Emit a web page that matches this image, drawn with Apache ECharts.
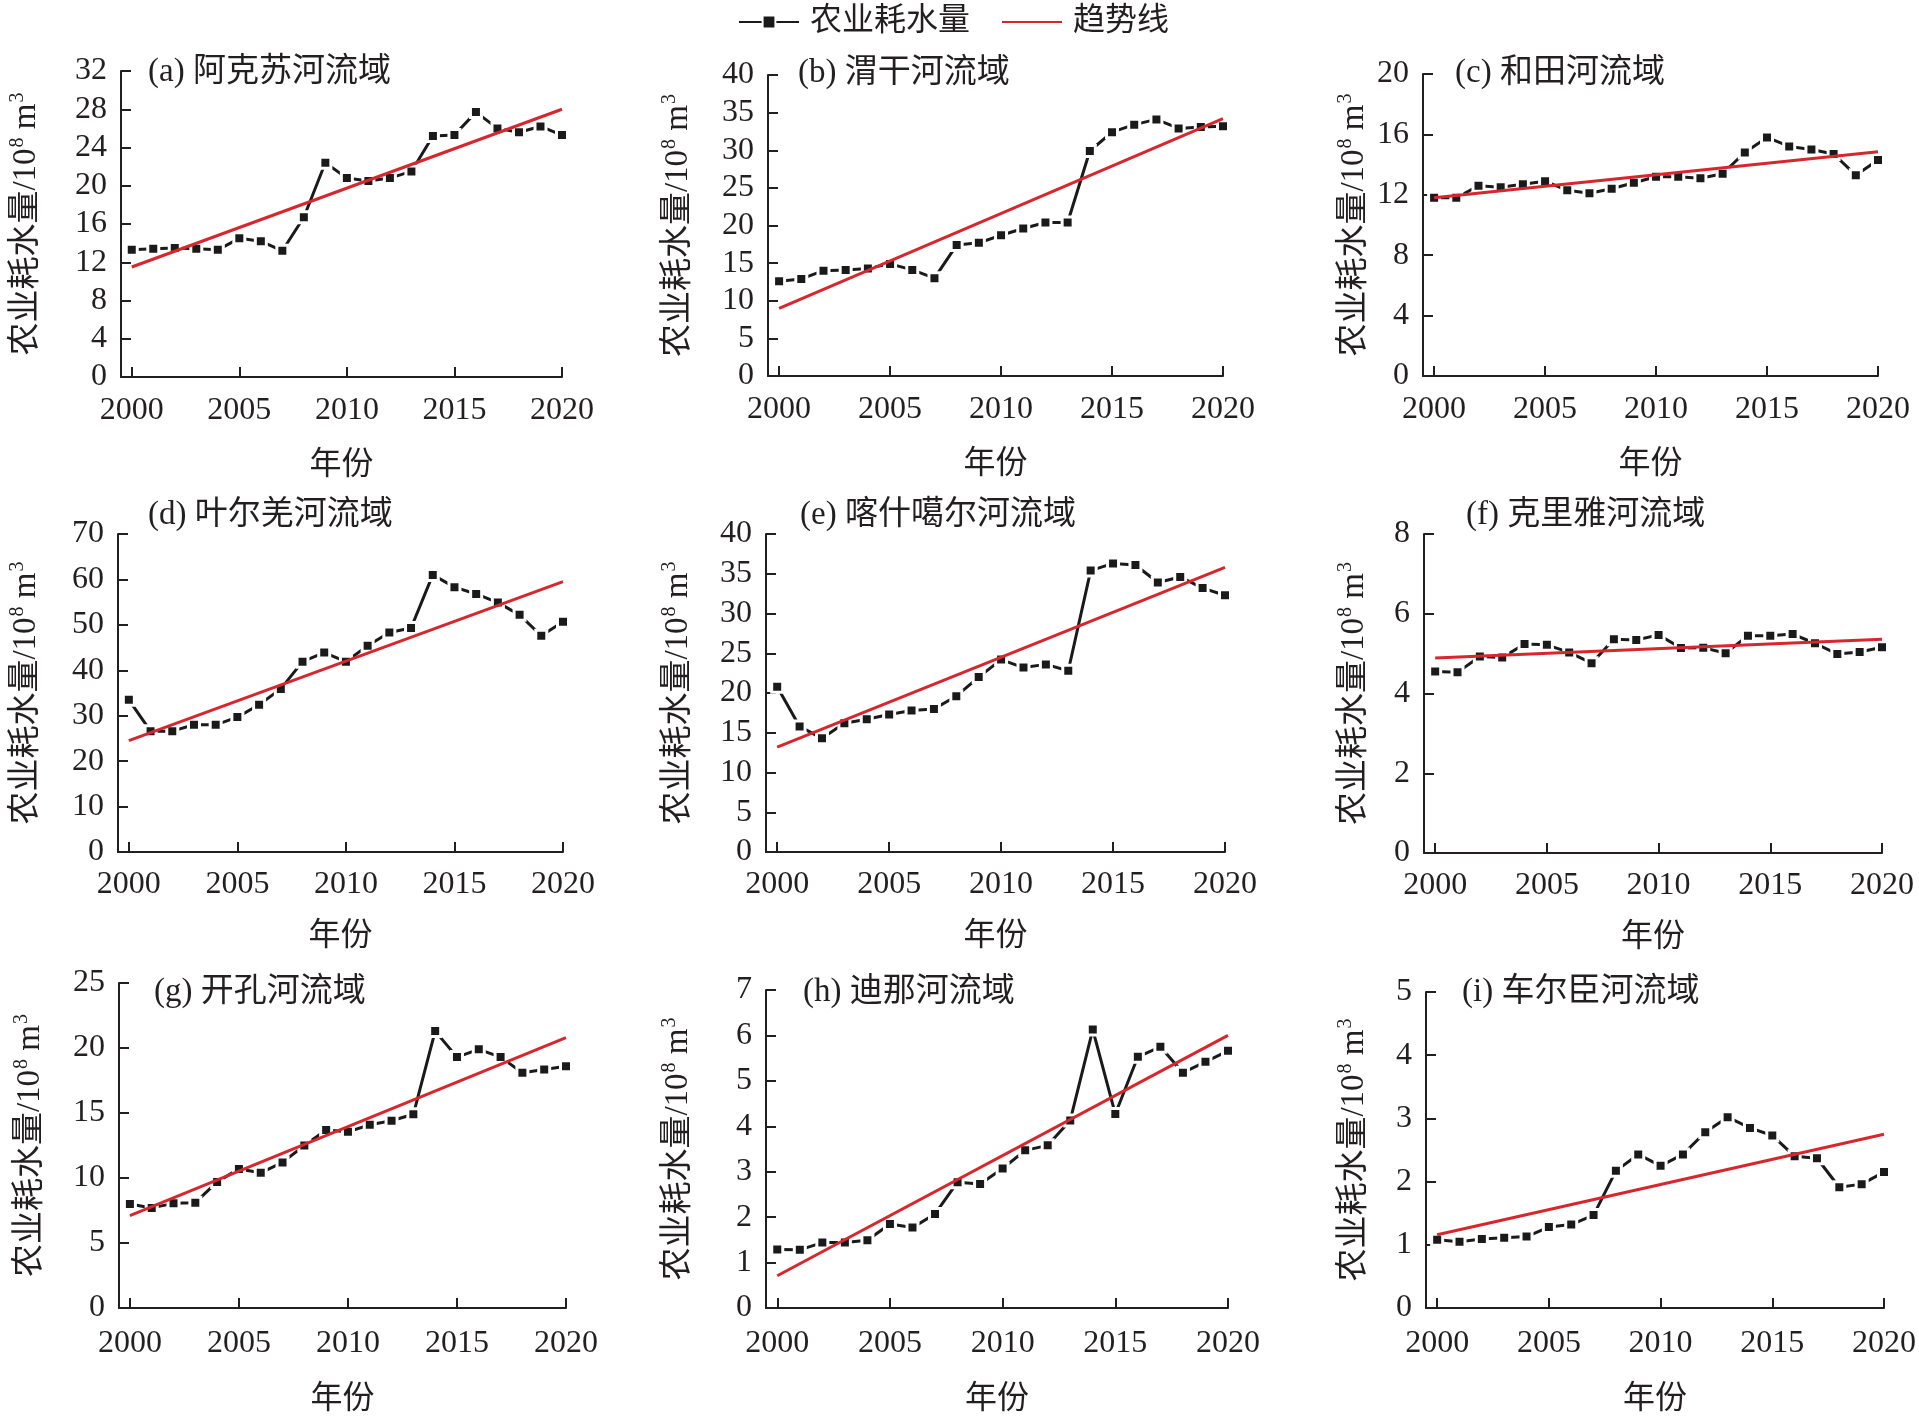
<!DOCTYPE html>
<html>
<head>
<meta charset="utf-8">
<script src="https://cdn.jsdelivr.net/npm/echarts@6/dist/echarts.min.js"></script>
<style>
html,body{margin:0;padding:0;background:#fff;}
#c{width:1919px;height:1417px;}
</style>
</head>
<body>
<div id="c"></div>
<script>
// ---------- data ----------
const years = [2000,2001,2002,2003,2004,2005,2006,2007,2008,2009,2010,2011,2012,2013,2014,2015,2016,2017,2018,2019,2020];
const xTicks = [2000,2005,2010,2015,2020];

const titles = ['(a) 阿克苏河流域','(b) 渭干河流域','(c) 和田河流域','(d) 叶尔羌河流域','(e) 喀什噶尔河流域','(f) 克里雅河流域','(g) 开孔河流域','(h) 迪那河流域','(i) 车尔臣河流域'];

const aksu    = [13.3,13.4,13.5,13.4,13.3,14.5,14.2,13.2,16.7,22.4,20.8,20.5,20.8,21.5,25.2,25.3,27.7,26.0,25.6,26.2,25.3];
const weigan  = [12.6,12.9,14.0,14.1,14.3,14.9,14.1,13.0,17.4,17.7,18.7,19.6,20.4,20.4,29.9,32.4,33.4,34.1,32.9,33.1,33.2];
const hotan   = [11.8,11.8,12.6,12.5,12.7,12.9,12.3,12.1,12.4,12.8,13.2,13.2,13.1,13.4,14.8,15.8,15.2,15.0,14.7,13.3,14.3];
const yarkand = [33.5,26.6,26.6,28.0,28.0,29.7,32.4,35.9,41.9,43.9,41.9,45.4,48.3,49.3,61.0,58.3,56.8,54.9,52.2,47.6,50.7];
const kashgar = [20.8,15.8,14.3,16.2,16.7,17.3,17.8,18.0,19.6,22.0,24.2,23.2,23.6,22.8,35.4,36.3,36.1,33.9,34.6,33.2,32.3];
const keriya  = [4.55,4.53,4.93,4.90,5.24,5.22,5.03,4.76,5.36,5.34,5.47,5.14,5.15,5.01,5.45,5.45,5.49,5.26,4.99,5.04,5.16];
const kaikong = [8.0,7.7,8.05,8.1,9.7,10.7,10.4,11.2,12.5,13.7,13.55,14.1,14.4,14.9,21.3,19.3,19.9,19.3,18.1,18.35,18.6];
const dina    = [1.29,1.28,1.44,1.44,1.49,1.85,1.77,2.07,2.77,2.73,3.07,3.47,3.58,4.13,6.13,4.27,5.53,5.75,5.18,5.42,5.66];
const qarqan  = [1.08,1.05,1.09,1.11,1.13,1.28,1.32,1.47,2.17,2.43,2.25,2.43,2.78,3.02,2.85,2.73,2.40,2.37,1.91,1.96,2.15];

// trend line end values (2000, 2020)
const trendAksu    = [11.5, 28.0];
const trendWeigan  = [9.0, 34.2];
const trendHotan   = [11.8, 14.85];
const trendYarkand = [24.5, 59.5];
const trendKashgar = [13.2, 35.8];
const trendKeriya  = [4.89, 5.36];
const trendKaikong = [7.1, 20.8];
const trendDina    = [0.71, 6.0];
const trendQarqan  = [1.16, 2.75];

const yMax      = [32, 40, 20, 70, 40, 8, 25, 7, 5];
const yInterval = [4, 5, 4, 10, 5, 2, 5, 1, 1];

const legendNames = ['农业耗水量', '趋势线'];
const yName = '{t|农业耗水量/10}{s|8}{t| m}{s|3}';
const xName = '年份';

// ---------- layout ----------
const series_vals = [aksu, weigan, hotan, yarkand, kashgar, keriya, kaikong, dina, qarqan];
const trends = [trendAksu, trendWeigan, trendHotan, trendYarkand, trendKashgar, trendKeriya, trendKaikong, trendDina, trendQarqan];

const grids = [
  {left:121, top:71,  width:441, height:306},
  {left:768, top:75,  width:455, height:301},
  {left:1423,top:74,  width:455, height:302},
  {left:118, top:534, width:445, height:318},
  {left:766, top:534, width:459, height:318},
  {left:1424,top:534, width:458, height:319},
  {left:119, top:983, width:447, height:327},
  {left:766, top:990, width:462, height:321},
  {left:1426,top:992, width:458, height:320}
];
const titlePos = [[148,76],[798,77],[1455,77],[148,519],[800,519],[1466,519],[154,996],[803,996],[1462,996]];
const yNameGap = [78,73,52,75,71,53,72,71,55];
const xLabelMargin = [18,18,18,17,17,17,20,20,20];
const xNameGap = [73,73,73,69,69,69,76,76,76];

const SERIF = "'Liberation Serif','Times New Roman','Noto Sans CJK SC',serif";
const INK = '#231f20';
const RED = '#d7272e';

const chart = echarts.init(document.getElementById('c'), null, {renderer:'canvas'});

const option = {
  backgroundColor:'#fff',
  animation:false,
  legend:{
    data: [
      {name: legendNames[0]},
      {name: legendNames[1], itemStyle:{opacity:0}}
    ],
    left: 733, top: 1,
    itemWidth: 60, itemHeight: 16, itemGap: 31,
    textStyle:{fontSize:32, fontFamily:SERIF, color:INK, padding:[0,0,0,6]}
  },
  title: titles.map((t,i)=>({
    text:t, left:titlePos[i][0], top:titlePos[i][1]-20,
    textStyle:{fontSize:33, fontWeight:'normal', fontFamily:SERIF, color:INK},
    padding:0
  })),
  grid: grids,
  xAxis: grids.map((g,i)=>({
    gridIndex:i, type:'value', min:1999.5, max:2020,
    name:xName, nameLocation:'middle', nameGap:xNameGap[i],
    nameTextStyle:{fontSize:32, fontFamily:SERIF, color:INK},
    axisLine:{show:true, onZero:false, lineStyle:{color:INK, width:2}},
    axisTick:{show:true, inside:true, length:10, customValues:xTicks, lineStyle:{color:INK, width:2}},
    axisLabel:{fontSize:32, fontFamily:SERIF, color:INK, margin:xLabelMargin[i], customValues:xTicks, formatter:v=>String(v)},
    splitLine:{show:false}
  })),
  yAxis: grids.map((g,i)=>({
    gridIndex:i, type:'value', min:0, max:yMax[i], interval:yInterval[i],
    name:yName, nameLocation:'middle', nameGap:yNameGap[i], nameRotate:90,
    nameTextStyle:{
      fontFamily:SERIF, color:INK,
      rich:{
        t:{fontSize:33, fontFamily:SERIF, color:INK, lineHeight:35, verticalAlign:'bottom'},
        s:{fontSize:20, fontFamily:SERIF, color:INK, lineHeight:35, verticalAlign:'top', padding:[0,0,0,1]}
      }
    },
    axisLine:{show:true, lineStyle:{color:INK, width:2}},
    axisTick:{show:true, inside:true, length:10, lineStyle:{color:INK, width:2}},
    axisLabel:{fontSize:32, fontFamily:SERIF, color:INK, margin:14},
    splitLine:{show:false}
  })),
  series: []
};

series_vals.forEach((vals,i)=>{
  option.series.push({
    name: legendNames[0], type:'line', xAxisIndex:i, yAxisIndex:i,
    data: years.map((y,k)=>[y, vals[k]]),
    symbol:'rect', symbolSize:11, showSymbol:true,
    lineStyle:{color:'#1a1a1a', width:3},
    itemStyle:{color:'#1a1a1a', borderColor:'#fff', borderWidth:3},
    z:3
  });
  option.series.push({
    name: legendNames[1], type:'line', xAxisIndex:i, yAxisIndex:i,
    data: [[years[0], trends[i][0]], [years[years.length-1], trends[i][1]]],
    symbol:'none', showSymbol:false,
    lineStyle:{color:RED, width:3},
    itemStyle:{color:RED},
    z:4
  });
});

chart.setOption(option);
</script>
</body>
</html>
